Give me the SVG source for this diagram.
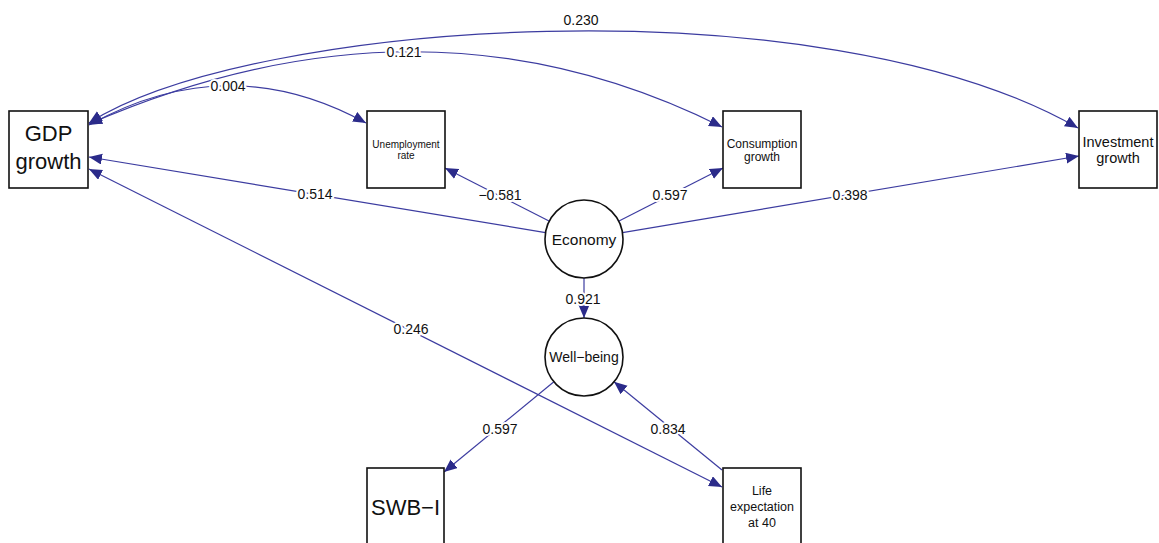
<svg xmlns="http://www.w3.org/2000/svg" width="1159" height="543" viewBox="0 0 1159 543">
<defs>
<style>
.box{fill:#fff;stroke:#111;stroke-width:1.6}
.nt{font-family:"Liberation Sans",Arial,sans-serif;fill:#111;text-anchor:middle}
.e{fill:none;stroke:#3c3ca0;stroke-width:1.2}
.lbl{font-family:"Liberation Sans",Arial,sans-serif;font-size:14px;fill:#111;text-anchor:middle;stroke:#fff;stroke-width:4;paint-order:stroke;stroke-linejoin:round}
</style>
<marker id="ah" markerUnits="userSpaceOnUse" markerWidth="14" markerHeight="12" refX="13" refY="5.5" orient="auto-start-reverse" viewBox="0 0 14 12">
<path d="M0,0 L13,5.5 L0,11 z" fill="#2b2b8a"/>
</marker>
</defs>
<rect width="1159" height="543" fill="#fff"/>
<g id="connectors">
<path class="e" d="M89,125 Q228.5,47.5 366,123" marker-start="url(#ah)" marker-end="url(#ah)"/>
<path class="e" d="M89,124 Q424.5,-22 722,127" marker-start="url(#ah)" marker-end="url(#ah)"/>
<path class="e" d="M89,123 C250,20 820,-20 1078,128" marker-start="url(#ah)" marker-end="url(#ah)"/>
<line class="e" x1="545.5" y1="232.6" x2="89" y2="157" marker-end="url(#ah)"/>
<line class="e" x1="549" y1="221" x2="445" y2="168" marker-end="url(#ah)"/>
<line class="e" x1="619" y1="221" x2="723" y2="168" marker-end="url(#ah)"/>
<line class="e" x1="622.5" y1="232.6" x2="1079" y2="156" marker-end="url(#ah)"/>
<line class="e" x1="584" y1="278" x2="584" y2="318" marker-end="url(#ah)"/>
<line class="e" x1="89" y1="169" x2="722" y2="487" marker-start="url(#ah)" marker-end="url(#ah)"/>
<line class="e" x1="553.9" y1="381.8" x2="444" y2="472" marker-end="url(#ah)"/>
<line class="e" x1="722" y1="470" x2="614" y2="381.8" marker-end="url(#ah)"/>
<text class="lbl" x="581" y="25">0.230</text>
<text class="lbl" x="404" y="57">0.121</text>
<text class="lbl" x="228" y="91">0.004</text>
<text class="lbl" x="315" y="199">0.514</text>
<text class="lbl" x="500" y="200">−0.581</text>
<text class="lbl" x="670" y="200">0.597</text>
<text class="lbl" x="850" y="200">0.398</text>
<text class="lbl" x="583" y="304">0.921</text>
<text class="lbl" x="411" y="334">0.246</text>
<text class="lbl" x="500" y="434">0.597</text>
<text class="lbl" x="668" y="434">0.834</text>
</g>
<g id="gdp">
<rect class="box" x="9" y="111" width="79" height="77"/>
<text class="nt" x="48.5" y="141" font-size="22">GDP</text>
<text class="nt" x="48.5" y="169" font-size="22">growth</text>
</g>
<g id="unemployment">
<rect class="box" x="367" y="111" width="78" height="77"/>
<text class="nt" x="406" y="148" font-size="10">Unemployment</text>
<text class="nt" x="406" y="159" font-size="10">rate</text>
</g>
<g id="consumption">
<rect class="box" x="723" y="111" width="78" height="77"/>
<text class="nt" x="762" y="148" font-size="12">Consumption</text>
<text class="nt" x="762" y="161" font-size="12">growth</text>
</g>
<g id="investment">
<rect class="box" x="1079" y="111" width="78" height="77"/>
<text class="nt" x="1118" y="147" font-size="14.5">Investment</text>
<text class="nt" x="1118" y="163" font-size="14.5">growth</text>
</g>
<g id="economy">
<circle class="box" cx="584" cy="239" r="39"/>
<text class="nt" x="584" y="245" font-size="15.5">Economy</text>
</g>
<g id="wellbeing">
<circle class="box" cx="584" cy="357" r="39"/>
<text class="nt" x="584" y="362" font-size="14">Well−being</text>
</g>
<g id="swb">
<rect class="box" x="367" y="468" width="77" height="80"/>
<text class="nt" x="405.5" y="515" font-size="22">SWB−I</text>
</g>
<g id="life">
<rect class="box" x="723" y="468" width="78" height="80"/>
<text class="nt" x="762" y="495" font-size="12.5">Life</text>
<text class="nt" x="762" y="511" font-size="12.5">expectation</text>
<text class="nt" x="762" y="527" font-size="12.5">at 40</text>
</g>
</svg>
